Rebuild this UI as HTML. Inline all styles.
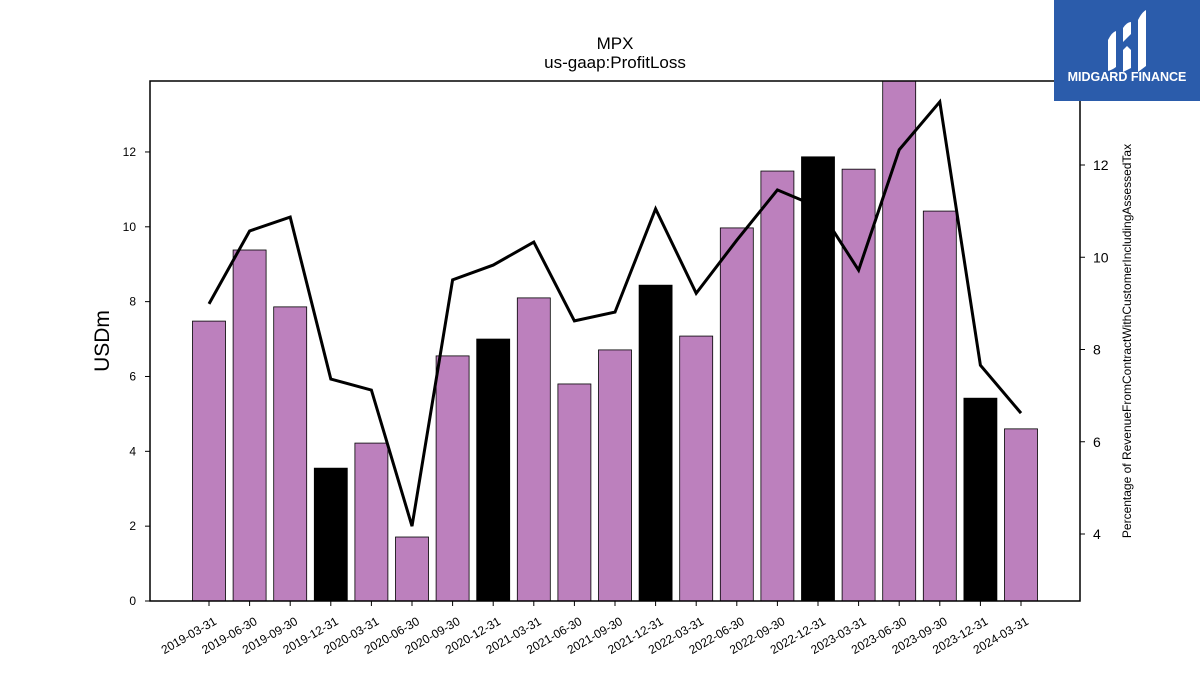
<!DOCTYPE html>
<html><head><meta charset="utf-8"><style>
body{margin:0;background:#fff;}
svg{display:block;font-family:"Liberation Sans","DejaVu Sans",sans-serif;}
</style></head><body>
<svg id="chart" width="1200" height="675">
<text x="615" y="49" text-anchor="middle" font-size="17">MPX</text>
<text x="615" y="68" text-anchor="middle" font-size="17">us-gaap:ProfitLoss</text>
<g id="bars"></g><g id="xt"></g><g id="yl"></g><g id="yr"></g>
<polyline id="line" fill="none" stroke="#000" stroke-width="3"/>
<rect x="150" y="81" width="930" height="520" fill="none" stroke="#000" stroke-width="1.5"/>
<text transform="translate(109,341) rotate(-90)" text-anchor="middle" font-size="21">USDm</text>
<text transform="translate(1131,341) rotate(-90)" text-anchor="middle" font-size="12">Percentage of RevenueFromContractWithCustomerIncludingAssessedTax</text>
<g>
<rect x="1054" y="0" width="146" height="101" fill="#2b5cab"/>
<path d="M1108 40 q4 -8 8 -9 v36 q-4 3 -8 4z M1123 28 q4-6 8-6 v12 l-8 8z M1123 50 l4 -4 4 4 v18 l-8 4z M1138 20 q4-8 8-10 v56 l-8 6z" fill="#fff"/>
<text x="1127" y="81" text-anchor="middle" font-size="12.5" font-weight="bold" fill="#fff">MIDGARD FINANCE</text>
</g>
</svg>
<script>
const categories=["2019-03-31","2019-06-30","2019-09-30","2019-12-31","2020-03-31","2020-06-30","2020-09-30","2020-12-31","2021-03-31","2021-06-30","2021-09-30","2021-12-31","2022-03-31","2022-06-30","2022-09-30","2022-12-31","2023-03-31","2023-06-30","2023-09-30","2023-12-31","2024-03-31"];
const profitLoss=[7.48,9.38,7.86,3.55,4.22,1.71,6.55,7.0,8.10,5.80,6.71,8.44,7.08,9.97,11.49,11.87,11.54,13.9,10.42,5.42,4.60];
const revenuePct=[8.99,10.57,10.87,7.36,7.12,4.17,9.51,9.83,10.33,8.62,8.81,11.05,9.22,10.37,11.46,11.09,9.72,12.33,13.37,7.66,6.62];
const leftTicks=[0,2,4,6,8,10,12];
const rightTicks=[4,6,8,10,12];
const NS="http://www.w3.org/2000/svg";
const xS=i=>209+i*40.6;
const yL=v=>601-v*37.42;
const yR=v=>165+(12-v)*46.125;
function mk(t,a,p){const e=document.createElementNS(NS,t);for(const k in a)e.setAttribute(k,a[k]);p.appendChild(e);return e;}
const bars=document.getElementById('bars'),xt=document.getElementById('xt'),yl=document.getElementById('yl'),yr=document.getElementById('yr');
categories.forEach((c,i)=>{
 const black=c.endsWith('12-31');
 const y=Math.max(81,yL(profitLoss[i]));
 const r=mk('rect',{x:xS(i)-16.5,y:y,width:33,height:601-y,fill:black?'#000':'#bc80bd',stroke:'#000','stroke-width':0.8},bars);
 
 
 mk('line',{x1:xS(i),x2:xS(i),y1:601,y2:606,stroke:'#000'},xt);
 const t=mk('text',{transform:`translate(${xS(i)+4},${616}) rotate(-30)`,'text-anchor':'end','font-size':12,'dominant-baseline':'hanging'},xt);
 t.textContent=c;
 
 
});
leftTicks.forEach(v=>{
 mk('line',{x1:145,x2:150,y1:yL(v),y2:yL(v),stroke:'#000'},yl);
 const t=mk('text',{x:136,y:yL(v)+4,'text-anchor':'end','font-size':12},yl);
 t.textContent=v;
 
 
});
rightTicks.forEach(v=>{
 mk('line',{x1:1080,x2:1085,y1:yR(v),y2:yR(v),stroke:'#000'},yr);
 const t=mk('text',{x:1093,y:yR(v)+5,'font-size':14},yr);
 t.textContent=v;
 
 
});
document.getElementById('line').setAttribute('points',revenuePct.map((v,i)=>xS(i)+','+yR(v)).join(' '));
</script>
</body></html>
